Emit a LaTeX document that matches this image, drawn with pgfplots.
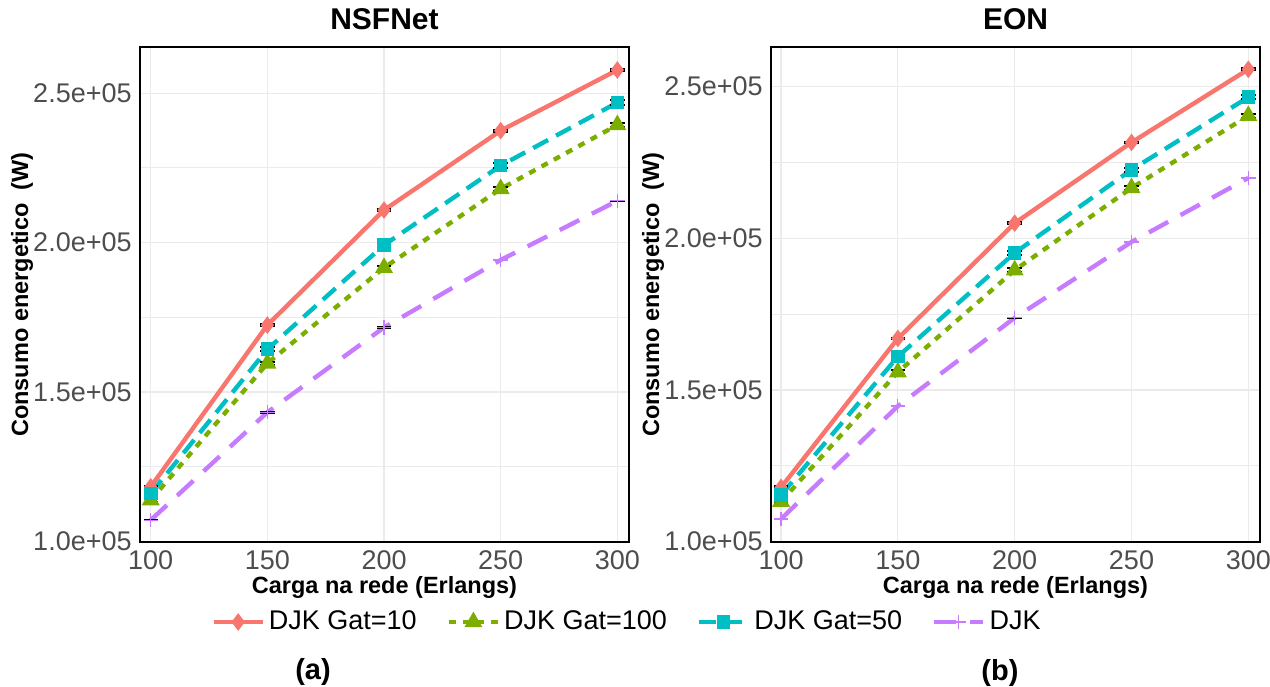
\documentclass[border=0pt]{standalone}
\usepackage{pgfplots}
\usepackage{pgfplotstable}
\pgfplotsset{compat=1.18}
\usepackage{fontspec}
\setmainfont{Liberation Sans}

\definecolor{cRed}{HTML}{F8766D}
\definecolor{cGreen}{HTML}{7CAE00}
\definecolor{cCyan}{HTML}{00BFC4}
\definecolor{cPurple}{HTML}{C77CFF}
\definecolor{gridc}{HTML}{EBEBEB}
\definecolor{tickc}{HTML}{4D4D4D}

% NSFNet
\pgfplotstableread{
x    g10    g100   g50    djk
100  118250 113800 116000 107100
150  172400 159600 164300 143200
200  210900 191600 199200 171600
250  237500 218000 225800 194200
300  257800 239400 246900 214000
}\nsf

% EON
\pgfplotstableread{
x    g10    g100   g50    djk
100  117900 113200 115400 107500
150  167000 155900 161000 144700
200  205000 189500 195200 173800
250  231600 216600 222600 198800
300  255700 240400 246500 219900
}\eon

\pgfplotsset{
  panel/.style={
    scale only axis,
    width=244.5pt, height=247.5pt,
    xmin=95.4, xmax=305,
    xtick={100,150,200,250,300},
    xticklabels={100,150,200,250,300},
    ytick={100000,150000,200000,250000},
    yticklabels={1.0e+05,1.5e+05,2.0e+05,2.5e+05},
    minor ytick={125000,175000,225000},
    major tick length=0pt, minor tick length=0pt,
    grid=both,
    major grid style={gridc, line width=0.6pt},
    minor grid style={gridc, line width=0.5pt},
    axis line style={black, line width=1.4pt},
    tick label style={font=\fontsize{13.5}{16}\selectfont, text=tickc},
    yticklabel style={inner sep=0pt, xshift=-4pt},
    xticklabel style={inner sep=0pt, yshift=-4pt},
    scaled ticks=false,
    xlabel={Carga na rede (Erlangs)},
    ylabel={Consumo energetico\ \ (W)},
    label style={font=\bfseries\fontsize{11.75}{14}\selectfont},
    xlabel style={at={(axis description cs:0.5,-0.092)}, anchor=center, inner sep=0pt},
    ylabel style={at={(axis description cs:-0.2413,0.5)}, anchor=center, inner sep=0pt},
    title style={font=\bfseries\fontsize{15}{18}\selectfont, yshift=-1pt},
    legend image code/.code={\draw[mark repeat=2,mark phase=2,##1] plot coordinates {(0pt,0pt) (12.25pt,0pt) (24.5pt,0pt)};},
  },
  s10/.style={cRed, solid, line width=2.2pt, mark=diamond*, mark size=2.6pt, mark options={solid, fill=cRed}},
  s100/.style={cGreen, dash pattern=on 3.5pt off 3.5pt, line width=2.2pt, mark=triangle*, mark size=3pt, mark options={solid, fill=cGreen}},
  s50/.style={cCyan, dash pattern=on 8.5pt off 4.5pt, line width=2.2pt, mark=square*, mark size=2.3pt, mark options={solid, fill=cCyan}},
  sdjk/.style={cPurple, dash pattern=on 11pt off 7pt, line width=2.2pt, mark=+, mark size=3.6pt, mark options={solid, line width=0.6pt}},
  ebar/.style={forget plot, draw=none, mark=none,
    error bars/y dir=both, error bars/y fixed=#1,
    error bars/error mark=|,
    error bars/error bar style={draw=black, line width=0.5pt, solid},
    error bars/error mark options={draw=black, mark size=3.6pt, line width=1pt, solid}},
}

\begin{document}
\begin{tikzpicture}
\useasboundingbox (0,0) rectangle (635pt,-343pt);

\begin{axis}[panel, at={(70pt,-23.5pt)}, anchor=north west,
  ymin=99770, ymax=265500,
  title={NSFNet},
  legend style={draw=none, fill=none, at={(0.998,-0.1616)}, anchor=center,
    legend columns=4, font=\fontsize{13.5}{16}\selectfont, text=black,
    /tikz/every even column/.append style={column sep=13pt}},
]
  \addplot[s10] table[x=x, y=g10] {\nsf};
  \addplot[s100] table[x=x, y=g100] {\nsf};
  \addplot[s50] table[x=x, y=g50] {\nsf};
  \addplot[sdjk] table[x=x, y=djk] {\nsf};
  \legend{DJK Gat=10, DJK Gat=100, DJK Gat=50, DJK}
  \addplot[ebar=300] table[x=x, y=g10] {\nsf};
  \addplot[ebar=600] table[x=x, y=g100] {\nsf};
  \addplot[ebar=700] table[x=x, y=g50] {\nsf};
  \addplot[ebar=100] table[x=x, y=djk] {\nsf};
\end{axis}

\begin{axis}[panel, at={(385.5pt,-23.5pt)}, anchor=north west,
  xmin=95.7,
  ymin=99900, ymax=263060,
  title={EON},
]
  \addplot[s10] table[x=x, y=g10] {\eon};
  \addplot[s100] table[x=x, y=g100] {\eon};
  \addplot[s50] table[x=x, y=g50] {\eon};
  \addplot[sdjk] table[x=x, y=djk] {\eon};
  \addplot[ebar=300] table[x=x, y=g10] {\eon};
  \addplot[ebar=600] table[x=x, y=g100] {\eon};
  \addplot[ebar=700] table[x=x, y=g50] {\eon};
  \addplot[ebar=100] table[x=x, y=djk] {\eon};
\end{axis}

\node[font=\bfseries\fontsize{14.5}{17}\selectfont] at (156.5pt,-336pt) {(a)};
\node[font=\bfseries\fontsize{14.5}{17}\selectfont] at (500pt,-336.5pt) {(b)};
\end{tikzpicture}
\end{document}
